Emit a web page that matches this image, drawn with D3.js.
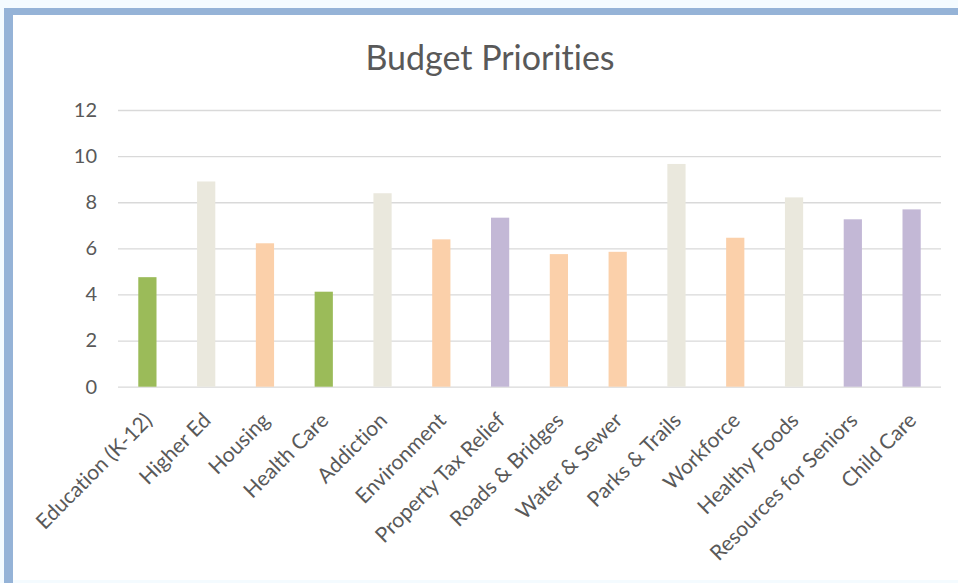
<!DOCTYPE html>
<html>
<head>
	<meta charset="utf-8">
	<title>Budget Priorities</title>
	<script src="https://d3js.org/d3.v7.min.js"></script>
	<style>
		body { margin: 0; background: #f4fbff; }
		text { font-family: Lato, "Open Sans", sans-serif; fill: #595959; font-variant-ligatures: none; }
	</style>
</head>
<body>
<svg id="chart" width="958" height="583"></svg>
<script type="text/javascript">

	// chart data
	var categories = ["Education (K-12)", "Higher Ed", "Housing", "Health Care", "Addiction", "Environment",
		"Property Tax Relief", "Roads & Bridges", "Water & Sewer", "Parks & Trails", "Workforce",
		"Healthy Foods", "Resources for Seniors", "Child Care"];
	var values = [4.75, 8.9, 6.22, 4.12, 8.39, 6.39, 7.33, 5.75, 5.85, 9.66, 6.46, 8.21, 7.26, 7.69];
	var groups = ["green", "tan", "orange", "green", "tan", "orange", "purple", "orange", "orange", "tan",
		"orange", "tan", "purple", "purple"];
	var yTicks = [0, 2, 4, 6, 8, 10, 12];

	var svg = d3.select("#chart");

	// frame
	svg.append("rect").attr("x", 0).attr("y", 0).attr("width", 958).attr("height", 583).attr("fill", "#f4fbff");
	svg.append("rect").attr("x", 13).attr("y", 15).attr("width", 945).attr("height", 565).attr("fill", "#ffffff");
	svg.append("rect").attr("x", 4).attr("y", 8).attr("width", 9).attr("height", 575).attr("fill", "#95b3d7");
	svg.append("rect").attr("x", 4).attr("y", 8).attr("width", 954).attr("height", 7).attr("fill", "#95b3d7");

	var color = d3.scaleOrdinal()
		.domain(["green", "tan", "orange", "purple"])
		.range(["#9bbb59", "#eae8dd", "#fbd0aa", "#c3b8d6"]);

	var x = d3.scaleBand().domain(categories).range([118, 941]).paddingInner(0.69).paddingOuter(0.345);
	var y = d3.scaleLinear().domain([0, 12]).range([386.7, 110]);

	// title
	svg.append("text")
		.attr("x", 490).attr("y", 70)
		.attr("text-anchor", "middle")
		.style("font-size", "34px")
		.text("Budget Priorities");

	// grid lines
	var yAxis = d3.axisLeft(y).tickValues(yTicks).tickSize(-(941 - 118)).tickPadding(21);
	var gy = svg.append("g").attr("transform", "translate(118,0)").call(yAxis);
	gy.select(".domain").remove();
	gy.selectAll(".tick line").attr("stroke", "#d9d9d9").attr("stroke-width", 1.3);
	gy.selectAll(".tick text").style("font-size", "20px").attr("fill", "#595959");

	// bars
	svg.append("g").selectAll("rect")
		.data(values)
		.enter()
		.append("rect")
		.attr("x", function(d, i) { return x(categories[i]); })
		.attr("y", function(d) { return y(d); })
		.attr("width", x.bandwidth())
		.attr("height", function(d) { return y(0) - y(d); })
		.attr("fill", function(d, i) { return color(groups[i]); });

	// category labels, rotated
	var xAxis = d3.axisBottom(x).tickSize(0).tickPadding(0);
	var gx = svg.append("g").attr("transform", "translate(0," + y(0) + ")").call(xAxis);
	gx.select(".domain").remove();
	gx.selectAll(".tick text")
		.attr("text-anchor", "end")
		.attr("y", 0).attr("dy", 0)
		.attr("transform", "translate(6,35) rotate(-45)")
		.attr("fill", "#595959")
		.style("font-size", "21px");

</script>
</body>
</html>
